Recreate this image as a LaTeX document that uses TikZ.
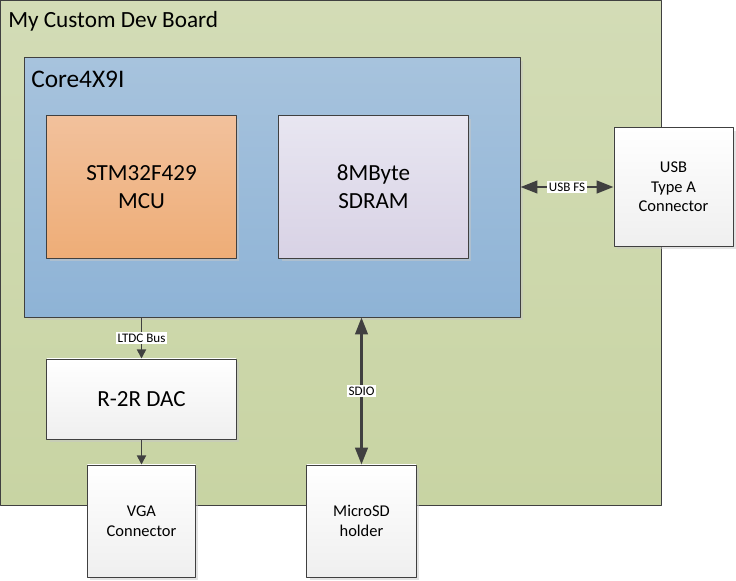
\documentclass[tikz,border=0pt]{standalone}
\usepackage{fontspec}
\setmainfont{Carlito}
\usetikzlibrary{arrows.meta,shadows}

\definecolor{edge}{HTML}{404040}
\definecolor{boardtop}{HTML}{D3DCB6}
\definecolor{boardbot}{HTML}{C8D4A3}
\definecolor{coretop}{HTML}{A7C3DD}
\definecolor{corebot}{HTML}{8EB3D6}
\definecolor{mcutop}{HTML}{F2C19C}
\definecolor{mcubot}{HTML}{EEAD77}
\definecolor{ramtop}{HTML}{E8E6F1}
\definecolor{rambot}{HTML}{D8D2E5}
\definecolor{parttop}{HTML}{FFFFFF}
\definecolor{partbot}{HTML}{EFEFEF}

\begin{document}
\begin{tikzpicture}[x=0.025cm,y=-0.025cm,line join=round,
  block/.style={draw=edge,line width=0.7pt,inner sep=0pt,align=center},
  shade/.style={drop shadow={shadow xshift=2pt,shadow yshift=-2pt,fill=black!22}},
  bigtext/.style={font=\fontsize{16.4}{20}\selectfont},
  parttext/.style={font=\fontsize{11.7}{14}\selectfont},
  bus/.style={fill=white,inner xsep=1pt,inner ysep=1pt,font=\fontsize{9.3}{10}\selectfont},
  wire/.style={draw=edge,line width=1.6pt},
  small tip/.style={-{Triangle[length=6.5pt,width=6.5pt]}},
  big tips/.style={{Triangle[length=12pt,width=9pt]}-{Triangle[length=12pt,width=9pt]}}]
% dev board, Core4X9I module, parts outside the board

\useasboundingbox (0,0) rectangle (736,580);

% board and module
\node[block,top color=boardtop,bottom color=boardbot,
  minimum width=16.5cm,minimum height=12.6cm] (board) at (331,253) {};
\node[anchor=base west,inner sep=0pt,font=\fontsize{16.5}{20}\selectfont]
  (boardname) at (8,27) {My Custom Dev Board};

\node[block,shade,top color=coretop,bottom color=corebot,
  minimum width=12.375cm,minimum height=6.475cm] (core) at (272.5,187.5) {};
\node[anchor=base west,inner sep=0pt,font=\fontsize{18}{22}\selectfont]
  (corename) at (31,87) {Core4X9I};

% chips on the module
\node[block,shade,bigtext,top color=mcutop,bottom color=mcubot,
  minimum width=4.725cm,minimum height=3.55cm] (mcu) at (141.5,187) {STM32F429\\MCU};
\node[block,shade,bigtext,top color=ramtop,bottom color=rambot,
  minimum width=4.725cm,minimum height=3.55cm] (sdram) at (373.5,187) {8MByte\\SDRAM};

% parts
\node[block,shade,bigtext,top color=parttop,bottom color=partbot,
  minimum width=4.725cm,minimum height=2cm] (dac) at (141.5,399) {R-2R DAC};
\node[block,shade,parttext,top color=parttop,bottom color=partbot,
  minimum width=2.975cm,minimum height=2.95cm] (usb) at (673.5,187) {USB\\Type A\\Connector};
\node[block,shade,parttext,top color=parttop,bottom color=partbot,
  minimum width=2.7cm,minimum height=2.8cm] (vga) at (141.5,521) {VGA\\Connector};
\node[block,shade,parttext,top color=parttop,bottom color=partbot,
  minimum width=2.725cm,minimum height=2.8cm] (sd) at (361.5,521) {MicroSD\\holder};

% buses
\draw[wire,line width=1.2pt,small tip] (dac.north |- core.south) -- node[bus] (ltdc) {LTDC Bus} (dac.north);
\draw[wire,line width=1.2pt,small tip] (dac.south) -- (vga.north);
\draw[wire,big tips] (sd.north |- core.south) -- node[bus] (sdio) {SDIO} (sd.north);
\draw[wire,big tips] (usb.west -| core.east) -- node[bus] (usbfs) {USB FS} (usb.west);

\end{tikzpicture}
\end{document}
